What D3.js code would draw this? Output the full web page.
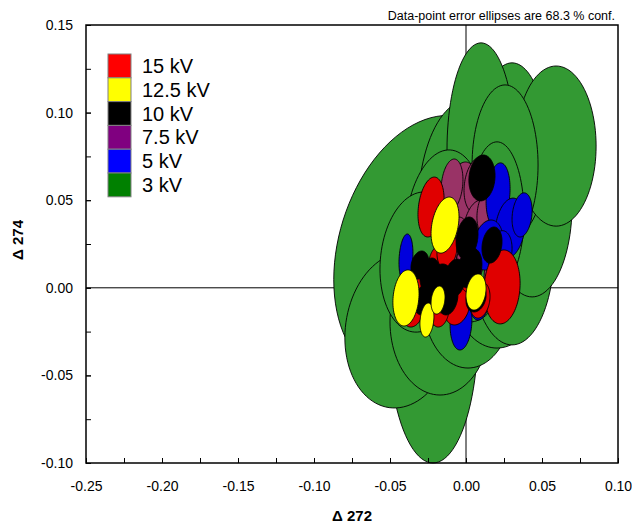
<!DOCTYPE html>
<html>
<head>
<meta charset="utf-8">
<script src="https://cdn.jsdelivr.net/npm/d3@7"></script>
<style>
  body { margin: 0; background: #fff; }
  svg { font-family: "Liberation Sans", Arial, sans-serif; }
</style>
</head>
<body>
<div id="chart"></div>
<script>
// error ellipses: [x, y, sigmaX, sigmaY, rho]
const kv3 = [
  [-0.0270, 0.0234, 0.0600, 0.0750, 0.25],
  [-0.0217, -0.0241, 0.0296, 0.0759, 0],
  [-0.0435, -0.0241, 0.0362, 0.0445, 0.1],
  [-0.0171, -0.0195, 0.0329, 0.0417, 0],
  [0.0013, -0.0070, 0.0296, 0.0388, 0],
  [0.0204, 0.0033, 0.0296, 0.0377, 0],
  [0.0303, 0.0216, 0.0277, 0.0542, 0],
  [0.0435, 0.0473, 0.0263, 0.0525, 0],
  [0.0303, 0.0787, 0.0230, 0.0497, 0],
  [0.0013, 0.0444, 0.0329, 0.0628, 0],
  [0.0099, 0.0787, 0.0224, 0.0611, 0],
  [0.0593, 0.0809, 0.0263, 0.0457, 0],
  [0.0257, 0.0701, 0.0217, 0.0457, 0],
  [0.0204, 0.0416, 0.0178, 0.0417, 0],
  [-0.0138, 0.0330, 0.0263, 0.0457, 0.1],
  [-0.0303, 0.0147, 0.0263, 0.0400, 0.1],
  [0.0026, 0.0147, 0.0230, 0.0342, 0]
];
const kv7_5 = [
  [-0.0026, 0.0501, 0.0112, 0.0217, 0.2],
  [0.0079, 0.0587, 0.0092, 0.0160, 0.2],
  [0.0079, 0.0330, 0.0099, 0.0171, 0.2],
  [-0.0066, 0.0244, 0.0092, 0.0160, 0.2],
  [0.0026, 0.0147, 0.0092, 0.0160, 0.2],
  [0.0191, 0.0090, 0.0072, 0.0160, 0.2],
  [-0.0092, 0.0587, 0.0072, 0.0148, 0.2],
  [-0.0132, 0.0113, 0.0072, 0.0126, 0.2],
  [0.0158, 0.0433, 0.0086, 0.0148, 0.2]
];
const kv5 = [
  [0.0211, 0.0530, 0.0079, 0.0183, 0.2],
  [0.0290, 0.0341, 0.0099, 0.0171, 0.2],
  [-0.0033, -0.0195, 0.0072, 0.0160, 0.1],
  [0.0145, 0.0244, 0.0099, 0.0143, 0.2],
  [-0.0395, 0.0170, 0.0046, 0.0137, 0.2],
  [0.0224, 0.0200, 0.0079, 0.0126, 0.2],
  [0.0369, 0.0416, 0.0066, 0.0126, 0.2],
  [0.0092, -0.0070, 0.0066, 0.0114, 0.2]
];
const kv15 = [
  [-0.0230, 0.0461, 0.0086, 0.0171, 0.25],
  [0.0237, 0.0005, 0.0119, 0.0211, 0.1],
  [-0.0191, 0.0130, 0.0059, 0.0108, 0.2],
  [-0.0059, -0.0098, 0.0086, 0.0114, 0.2],
  [-0.0329, -0.0013, 0.0066, 0.0114, 0.2],
  [0.0026, 0.0090, 0.0066, 0.0114, 0.2],
  [-0.0349, -0.0127, 0.0072, 0.0097, 0.2],
  [-0.0125, 0.0216, 0.0066, 0.0103, 0.2],
  [0.0092, -0.0070, 0.0066, 0.0103, 0.2],
  [-0.0171, -0.0138, 0.0059, 0.0086, 0.2],
  [-0.0138, -0.0058, 0.0079, 0.0086, 0.2]
];
const kv10 = [
  [0.0105, 0.0627, 0.0086, 0.0131, 0.1],
  [0.0007, 0.0284, 0.0072, 0.0120, 0.2],
  [0.0026, 0.0113, 0.0079, 0.0114, 0.2],
  [-0.0171, 0.0016, 0.0086, 0.0120, 0.2],
  [-0.0237, 0.0073, 0.0066, 0.0097, 0.2],
  [-0.0072, 0.0056, 0.0072, 0.0108, 0.2],
  [0.0171, 0.0244, 0.0066, 0.0103, 0.2],
  [-0.0277, -0.0070, 0.0066, 0.0086, 0.2],
  [-0.0119, -0.0058, 0.0066, 0.0097, 0.2],
  [-0.0303, 0.0130, 0.0059, 0.0080, 0.2],
  [0.0066, -0.0058, 0.0066, 0.0080, 0.2]
];
const kv12_5 = [
  [-0.0395, -0.0058, 0.0086, 0.0160, 0.15],
  [-0.0138, 0.0358, 0.0092, 0.0160, 0.3],
  [-0.0257, -0.0184, 0.0046, 0.0097, 0.2],
  [0.0066, -0.0024, 0.0066, 0.0103, 0.2],
  [-0.0184, -0.0070, 0.0046, 0.0080, 0.2]
];

const legendLabels = ["15 kV", "12.5 kV", "10 kV", "7.5 kV", "5 kV", "3 kV"];
const legendColors = ["#ff0000", "#ffff00", "#000000", "#800080", "#0000ff", "#008000"];
const xTicks = [-0.25, -0.20, -0.15, -0.10, -0.05, 0.00, 0.05, 0.10];
const yTicks = [-0.10, -0.05, 0.00, 0.05, 0.10, 0.15];

// draw order, back to front
const series = [
  { data: kv3, fill: "#339933" },
  { data: kv7_5, fill: "#993366" },
  { data: kv5, fill: "#0000dd" },
  { data: kv15, fill: "#e00000" },
  { data: kv10, fill: "#000000" },
  { data: kv12_5, fill: "#ffff00" }
];

const width = 632, height = 525;
const margin = { top: 25, right: 14, bottom: 62, left: 86 };

const svg = d3.select("#chart").append("svg")
  .attr("width", width)
  .attr("height", height);

const x = d3.scaleLinear().domain([-0.25, 0.10]).range([margin.left, width - margin.right]);
const y = d3.scaleLinear().domain([-0.10, 0.15]).range([height - margin.bottom, margin.top]);

// zero lines
svg.append("line")
  .attr("x1", x(0)).attr("x2", x(0))
  .attr("y1", y(0.15)).attr("y2", y(-0.10))
  .attr("stroke", "#000").attr("stroke-width", 1);
svg.append("line")
  .attr("x1", x(-0.25)).attr("x2", x(0.10))
  .attr("y1", y(0)).attr("y2", y(0))
  .attr("stroke", "#000").attr("stroke-width", 1);

// ellipse outline from sigmas and correlation
const line = d3.line().curve(d3.curveLinearClosed);
function ellipse(d) {
  const [cx, cy, sx, sy, rho] = d;
  const s = Math.sqrt(1 - rho * rho);
  const pts = d3.range(0, 96).map(i => {
    const t = i / 96 * 2 * Math.PI;
    return [x(cx + sx * Math.cos(t)), y(cy + sy * (rho * Math.cos(t) + s * Math.sin(t)))];
  });
  return line(pts);
}

series.forEach(s => {
  svg.append("g")
    .selectAll("path")
    .data(s.data)
    .join("path")
    .attr("d", ellipse)
    .attr("fill", s.fill)
    .attr("stroke", "#000")
    .attr("stroke-width", 0.9);
});

// frame
svg.append("rect")
  .attr("x", x(-0.25)).attr("y", y(0.15))
  .attr("width", x(0.10) - x(-0.25))
  .attr("height", y(-0.10) - y(0.15))
  .attr("fill", "none")
  .attr("stroke", "#000")
  .attr("stroke-width", 1.5);

const fmt = d => d.toFixed(2);

// y axis
const yMinor = d3.range(-0.10, 0.1501, 0.025);
svg.append("g")
  .attr("transform", `translate(${x(-0.25)},0)`)
  .call(d3.axisLeft(y).tickValues(yMinor).tickSize(-5).tickFormat(""))
  .call(g => g.select(".domain").remove());
svg.append("g")
  .attr("transform", `translate(${x(-0.25)},0)`)
  .call(d3.axisLeft(y).tickValues(yTicks).tickSize(-5).tickPadding(13).tickFormat(fmt))
  .attr("font-size", "14px")
  .attr("font-family", null)
  .call(g => g.select(".domain").remove());

// x axis
const xMinor = d3.range(-0.25, 0.1001, 0.025);
svg.append("g")
  .attr("transform", `translate(0,${y(-0.10)})`)
  .call(d3.axisBottom(x).tickValues(xMinor).tickSize(-5).tickFormat(""))
  .call(g => g.select(".domain").remove());
svg.append("g")
  .attr("transform", `translate(0,${y(-0.10)})`)
  .call(d3.axisBottom(x).tickValues(xTicks).tickSize(-5).tickPadding(18).tickFormat(fmt))
  .attr("font-size", "14px")
  .attr("font-family", null)
  .call(g => g.select(".domain").remove());

// axis titles
svg.append("text")
  .attr("x", 352).attr("y", 521)
  .attr("text-anchor", "middle")
  .attr("font-size", "15px")
  .attr("font-weight", "bold")
  .text("Δ 272");
svg.append("text")
  .attr("transform", "translate(23,240) rotate(-90)")
  .attr("text-anchor", "middle")
  .attr("font-size", "15px")
  .attr("font-weight", "bold")
  .text("Δ 274");

// note
svg.append("text")
  .attr("x", 615).attr("y", 20)
  .attr("text-anchor", "end")
  .attr("font-size", "12.5px")
  .text("Data-point error ellipses are 68.3 % conf.");

// legend
const legend = svg.append("g").attr("transform", "translate(108,54)");
const row = legend.selectAll("g")
  .data(legendLabels)
  .join("g")
  .attr("transform", (d, i) => `translate(0,${i * 23.8})`);
row.append("rect")
  .attr("width", 23).attr("height", 23.8)
  .attr("fill", (d, i) => legendColors[i])
  .attr("stroke", "#808080")
  .attr("stroke-width", 1);
row.append("text")
  .attr("x", 34).attr("y", 19)
  .attr("font-size", "20px")
  .text(d => d);
</script>
</body>
</html>
